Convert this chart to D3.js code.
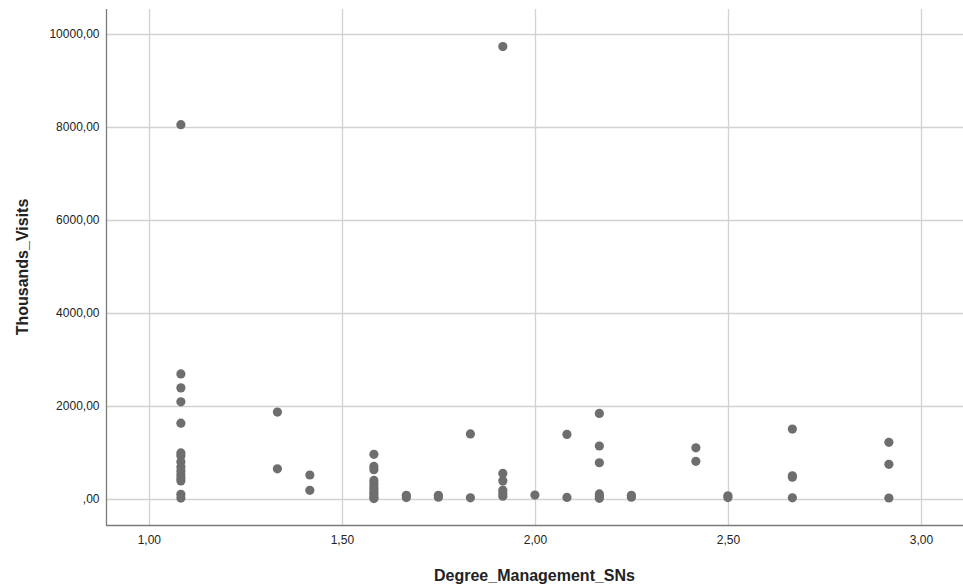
<!DOCTYPE html>
<html>
<head>
<meta charset="utf-8">
<script src="https://cdn.jsdelivr.net/npm/d3@7"></script>
<style>
	body { margin: 0; background: #fff; }
	svg { display: block; font-family: Arial, 'Liberation Sans', sans-serif; }
</style>
</head>
<body>
<svg id="chart"></svg>
<script>
// Degree_Management_SNs (x) and Thousands_Visits (y), one entry per case
const degree = [
	1.083, 1.083, 1.083, 1.083, 1.083, 1.083, 1.083, 1.083, 1.083, 1.083, 1.083, 1.083, 1.083, 1.083, 1.083,
	1.333, 1.333,
	1.417, 1.417,
	1.583, 1.583, 1.583, 1.583, 1.583, 1.583, 1.583, 1.583, 1.583, 1.583, 1.583,
	1.667, 1.667,
	1.75, 1.75,
	1.833, 1.833,
	1.917, 1.917, 1.917, 1.917, 1.917, 1.917,
	2.0,
	2.083, 2.083,
	2.167, 2.167, 2.167, 2.167, 2.167, 2.167,
	2.25, 2.25,
	2.417, 2.417,
	2.5, 2.5,
	2.667, 2.667, 2.667, 2.667,
	2.917, 2.917, 2.917
];
const visits = [
	8050, 2690, 2390, 2090, 1630, 990, 930, 800, 690, 600, 520, 450, 390, 100, 20,
	1870, 650,
	516, 187,
	960, 700, 630, 400, 330, 260, 200, 140, 90, 40, 10,
	80, 30,
	80, 40,
	1400, 25,
	9730, 550, 390, 190, 120, 60,
	85,
	1390, 35,
	1840, 1140, 780, 110, 60, 15,
	80, 40,
	1100, 810,
	70, 30,
	1505, 500, 470, 25,
	1220, 745, 22
];
const xTicks = [1, 1.5, 2, 2.5, 3];
const yTicks = [0, 2000, 4000, 6000, 8000, 10000];

const width = 963,
	height = 586,
	mLeft = 106,
	mTop = 9,
	mRight = 963,
	mBottom = 525;

const svg = d3.select('#chart').attr('width', width).attr('height', height);

const x = d3.scaleLinear().domain([0.889, 3.109]).range([mLeft, mRight]);
const y = d3.scaleLinear().domain([-559, 10538]).range([mBottom, mTop]);

const fmt = v => (v === 0 ? '' : String(v)) + ',00';
const fmtX = v => v.toFixed(2).replace('.', ',');

// grid
svg.append('g')
	.selectAll('line')
	.data(yTicks)
	.join('line')
	.attr('x1', mLeft)
	.attr('x2', mRight)
	.attr('y1', d => Math.round(y(d)) + 0.5)
	.attr('y2', d => Math.round(y(d)) + 0.5)
	.attr('stroke', '#d2d2d2')
	.attr('stroke-width', 1.3);

svg.append('g')
	.selectAll('line')
	.data(xTicks)
	.join('line')
	.attr('x1', d => Math.round(x(d)) + 0.5)
	.attr('x2', d => Math.round(x(d)) + 0.5)
	.attr('y1', mTop)
	.attr('y2', mBottom)
	.attr('stroke', '#d2d2d2')
	.attr('stroke-width', 1.3);

// axes
const yAxis = svg.append('g')
	.attr('transform', `translate(${mLeft + 0.5},0)`)
	.call(d3.axisLeft(y).tickValues(yTicks).tickFormat(fmt).tickSize(0).tickPadding(7));
yAxis.select('.domain').attr('stroke', '#7a7a7a').attr('stroke-width', 1.3).attr('d', `M0,${mTop}V${mBottom}`);

const xAxis = svg.append('g')
	.attr('transform', `translate(0,${mBottom + 0.5})`)
	.call(d3.axisBottom(x).tickValues(xTicks).tickFormat(fmtX).tickSize(0).tickPadding(10));
xAxis.select('.domain').attr('stroke', '#7a7a7a').attr('stroke-width', 1.3).attr('d', `M${mLeft},0H${mRight}`);

svg.selectAll('.tick text').attr('font-size', 12).attr('fill', '#222').attr('font-family', 'Arial, "Liberation Sans", sans-serif');

// points
svg.append('g')
	.selectAll('circle')
	.data(degree.map((d, i) => [d, visits[i]]))
	.join('circle')
	.attr('cx', d => x(d[0]))
	.attr('cy', d => y(d[1]))
	.attr('r', 4.6)
	.attr('fill', '#6e6e6e');

// titles
svg.append('text')
	.attr('x', (mLeft + mRight) / 2)
	.attr('y', 581)
	.attr('text-anchor', 'middle')
	.attr('font-size', 16)
	.attr('font-weight', 'bold')
	.attr('fill', '#222')
	.text('Degree_Management_SNs');

svg.append('text')
	.attr('transform', `translate(28,${(mTop + mBottom) / 2}) rotate(-90)`)
	.attr('text-anchor', 'middle')
	.attr('font-size', 16)
	.attr('font-weight', 'bold')
	.attr('fill', '#222')
	.text('Thousands_Visits');
</script>
</body>
</html>
